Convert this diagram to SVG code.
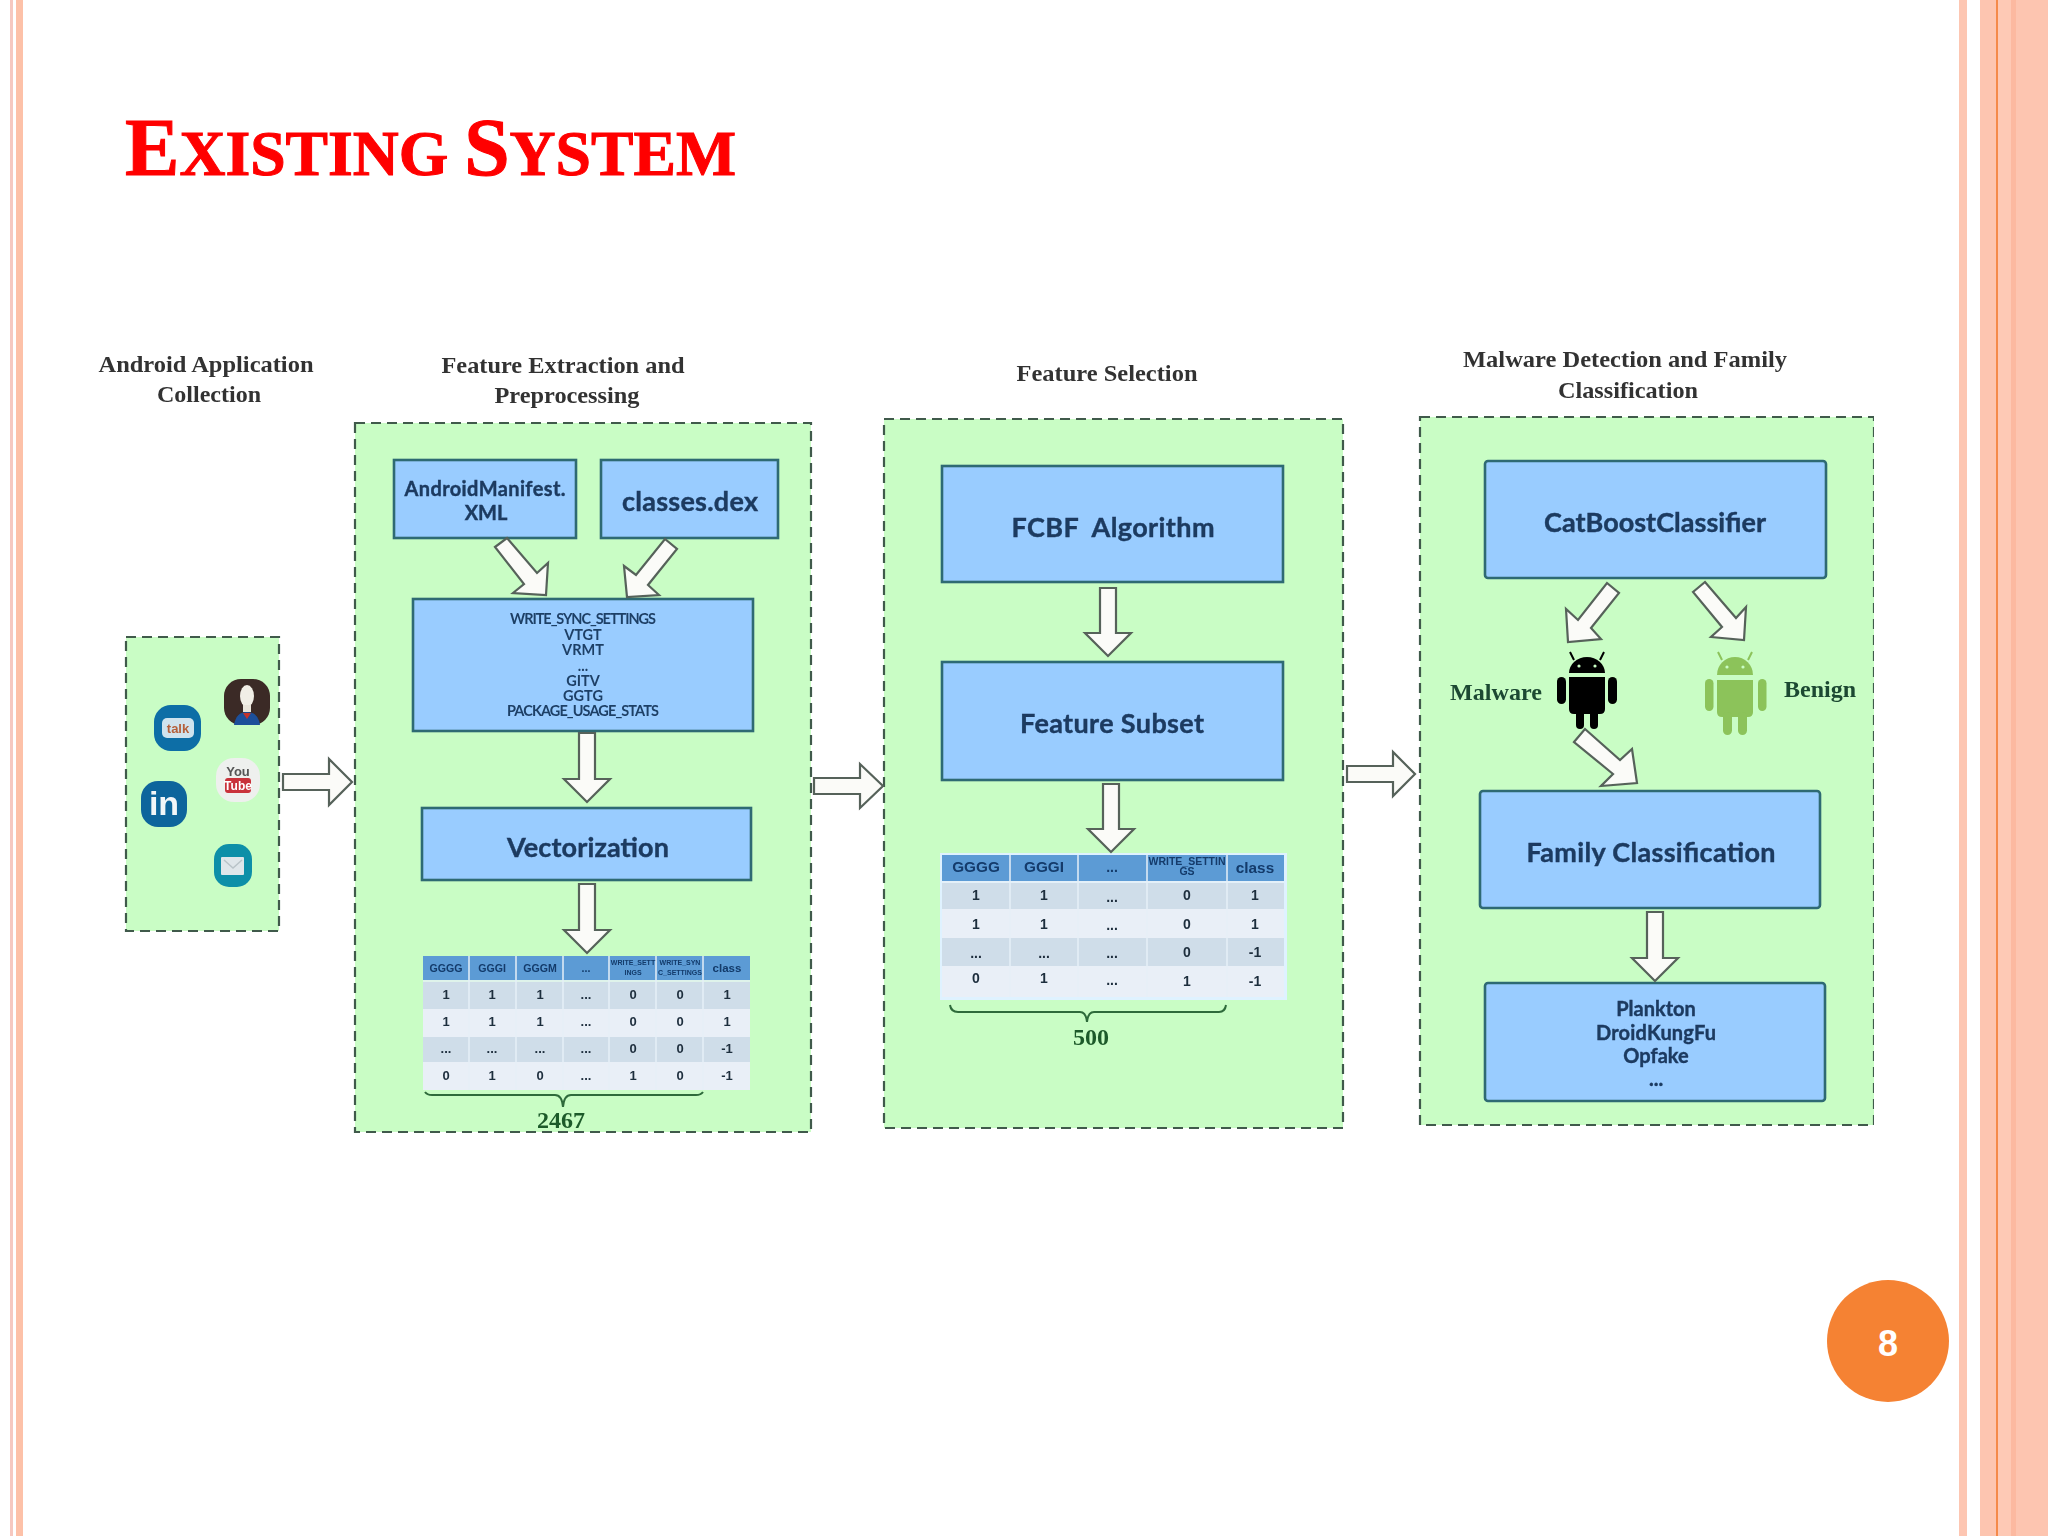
<svg xmlns="http://www.w3.org/2000/svg" width="2048" height="1536" viewBox="0 0 2048 1536">
<defs><filter id="soft" x="0" y="0" width="100%" height="100%"><feGaussianBlur stdDeviation="0.6"/></filter></defs>
<style>
text{font-family:"Liberation Sans",Arial,sans-serif}
.panel{fill:#c9fdc5;stroke:#3f5a4c;stroke-width:2.2;stroke-dasharray:10 6}
.box{fill:#99ccff;stroke:#2f6a73;stroke-width:2.6}
.lbl{font-family:Lato,"Liberation Sans",sans-serif;font-weight:700;fill:#1c3a60;text-anchor:middle;stroke:#1c3a60;stroke-width:.4}
.small{font-family:Lato,"Liberation Sans",sans-serif;font-size:14.5px;font-weight:700;fill:#1f3f66;text-anchor:middle}
.head{font-family:"Liberation Serif",serif;font-weight:700;font-size:24px;fill:#333;text-anchor:middle}
.tag{font-family:"Liberation Serif",serif;font-weight:700;font-size:24px;fill:#1d4a33}
.num{font-family:"Liberation Serif",serif;font-weight:700;font-size:24px;fill:#1d5a2a;text-anchor:middle}
.arrow{fill:#fbfbf8;stroke:#56625a;stroke-width:2.2;stroke-linejoin:miter}
.brace{fill:none;stroke:#2e6b3a;stroke-width:2}
.hd{fill:#5b9bd5}.r1{fill:#cfdde9}.r2{fill:#e9eff7}
.th{font-weight:700;fill:#123a6a;text-anchor:middle}
.td{font-weight:700;fill:#1e2d3c;text-anchor:middle}
</style>

<g id="background">
<rect width="2048" height="1536" fill="#fff"/>
<rect x="10" width="3" height="1536" fill="#f6c8c0"/>
<rect x="16" width="7" height="1536" fill="#fdc1a8"/>
<rect x="1959" width="8" height="1536" fill="#fdc6b2"/>
<rect x="1980" width="68" height="1536" fill="#fdc5b0"/>
<rect x="1998" width="13" height="1536" fill="#fec9b5"/>
<rect x="2011" width="5" height="1536" fill="#fcb9a0"/>
<rect x="1996" width="2" height="1536" fill="#f58a4a"/>
</g>

<text id="title" x="125" y="175" textLength="611" lengthAdjust="spacingAndGlyphs" style="font-family:'Liberation Serif',serif" font-weight="700" font-size="82" fill="#ff0000" stroke="#ff0000" stroke-width="1">E<tspan font-size="64">XISTING </tspan>S<tspan font-size="64">YSTEM</tspan></text>

<g id="diagram" filter="url(#soft)">
<g id="headings">
<text class="head" x="206" y="372" textLength="215" lengthAdjust="spacingAndGlyphs">Android Application</text>
<text class="head" x="209" y="402" textLength="104" lengthAdjust="spacingAndGlyphs">Collection</text>
<text class="head" x="563" y="373" textLength="243" lengthAdjust="spacingAndGlyphs">Feature Extraction and</text>
<text class="head" x="567" y="403" textLength="145" lengthAdjust="spacingAndGlyphs">Preprocessing</text>
<text class="head" x="1107" y="381" textLength="181" lengthAdjust="spacingAndGlyphs">Feature Selection</text>
<text class="head" x="1625" y="367" textLength="324" lengthAdjust="spacingAndGlyphs">Malware Detection and Family</text>
<text class="head" x="1628" y="398" textLength="140" lengthAdjust="spacingAndGlyphs">Classification</text>
</g>

<g id="panel-collection">
<rect class="panel" x="126" y="637" width="153" height="294"/>
<g id="icon-talk"><rect x="154" y="705" width="47" height="46" rx="17" fill="#0b6ea6"/><rect x="162" y="718" width="32" height="20" rx="5" fill="#cfe3ee"/><text x="178" y="733" font-size="13" font-weight="700" fill="#b5603a" text-anchor="middle">talk</text></g>
<g id="icon-super"><rect x="224" y="679" width="46" height="46" rx="17" fill="#3b2a25"/><ellipse cx="247" cy="696" rx="7" ry="11" fill="#f1eee6"/><rect x="243" y="705" width="8" height="7" fill="#e9e4da"/><path d="M234 725Q236 712 247 712Q258 712 260 725Z" fill="#1c4f9a"/><path d="M243 713h8l-4 6z" fill="#c5312a"/></g>
<g id="icon-youtube"><rect x="216" y="758" width="44" height="44" rx="18" fill="#eef0ee"/><text x="238" y="776" font-size="13" font-weight="700" fill="#555" text-anchor="middle">You</text><rect x="225" y="778" width="26" height="15" rx="3" fill="#c9303a"/><text x="238" y="790" font-size="12" font-weight="700" fill="#fff" text-anchor="middle">Tube</text></g>
<g id="icon-linkedin"><rect x="141" y="781" width="46" height="46" rx="17" fill="#0f659c"/><text x="164" y="815" font-size="34" font-weight="700" fill="#f2f6f8" text-anchor="middle">in</text></g>
<g id="icon-mail"><rect x="214" y="844" width="38" height="43" rx="15" fill="#0f8fa8"/><rect x="221" y="857" width="23" height="18" rx="1" fill="#dfe6ea"/><path d="M224 860l9 8 9-8" fill="none" stroke="#b9c3c8" stroke-width="1.5"/></g>
</g>

<g id="panel-extraction">
<rect class="panel" x="355" y="423" width="456" height="709"/>
</g>
<g id="node-manifest">
<rect class="box" x="394" y="460" width="182" height="78"/>
<text class="lbl" x="485" y="496" font-size="20" textLength="161">AndroidManifest.</text>
<text class="lbl" x="486" y="520" font-size="20">XML</text>
</g>
<g id="node-classes">
<rect class="box" x="601" y="460" width="177" height="78"/>
<text class="lbl" x="690" y="511" font-size="27" textLength="136">classes.dex</text>
</g>
<g id="node-features">
<rect class="box" x="413" y="599" width="340" height="132"/>
<text class="small" x="583" y="624" textLength="146">WRITE_SYNC_SETTINGS</text>
<text class="small" x="583" y="640">VTGT</text>
<text class="small" x="583" y="655">VRMT</text>
<text class="small" x="583" y="671">...</text>
<text class="small" x="583" y="686">GITV</text>
<text class="small" x="583" y="701">GGTG</text>
<text class="small" x="583" y="716" textLength="152">PACKAGE_USAGE_STATS</text>
</g>
<g id="node-vectorization">
<rect class="box" x="422" y="808" width="329" height="72"/>
<text class="lbl" x="588" y="857" font-size="27" textLength="162">Vectorization</text>
</g>
<g id="table-2467">
<rect class="hd" x="423" y="956" width="327" height="24"/>
<rect class="r1" x="423" y="982" width="327" height="27"/>
<rect class="r2" x="423" y="1009" width="327" height="28"/>
<rect class="r1" x="423" y="1037" width="327" height="25"/>
<rect class="r2" x="423" y="1062" width="327" height="28"/>
<g stroke="#e6f0f8" stroke-width="1.5"><path d="M469 956V1090M516 956V1090M563 956V1090M609 956V1090M656 956V1090M703 956V1090M423 981H750"/></g>
<g font-size="10.6"><text class="th" x="446" y="972">GGGG</text><text class="th" x="492" y="972">GGGI</text><text class="th" x="540" y="972">GGGM</text><text class="th" x="586" y="972">...</text><text class="th" x="727" y="972" font-size="11.5">class</text></g>
<g font-size="7"><text class="th" x="633" y="965">WRITE_SETT</text><text class="th" x="633" y="975">INGS</text><text class="th" x="680" y="965">WRITE_SYN</text><text class="th" x="680" y="975">C_SETTINGS</text></g>
<g font-size="13">
<text class="td" x="446" y="999">1</text><text class="td" x="492" y="999">1</text><text class="td" x="540" y="999">1</text><text class="td" x="586" y="999">...</text><text class="td" x="633" y="999">0</text><text class="td" x="680" y="999">0</text><text class="td" x="727" y="999">1</text>
<text class="td" x="446" y="1026">1</text><text class="td" x="492" y="1026">1</text><text class="td" x="540" y="1026">1</text><text class="td" x="586" y="1026">...</text><text class="td" x="633" y="1026">0</text><text class="td" x="680" y="1026">0</text><text class="td" x="727" y="1026">1</text>
<text class="td" x="446" y="1053">...</text><text class="td" x="492" y="1053">...</text><text class="td" x="540" y="1053">...</text><text class="td" x="586" y="1053">...</text><text class="td" x="633" y="1053">0</text><text class="td" x="680" y="1053">0</text><text class="td" x="727" y="1053">-1</text>
<text class="td" x="446" y="1080">0</text><text class="td" x="492" y="1080">1</text><text class="td" x="540" y="1080">0</text><text class="td" x="586" y="1080">...</text><text class="td" x="633" y="1080">1</text><text class="td" x="680" y="1080">0</text><text class="td" x="727" y="1080">-1</text>
</g>
<path class="brace" d="M425 1092Q427 1095 432 1095H555Q562 1095 563 1107Q564 1095 571 1095H696Q701 1095 703 1092"/>
<text class="num" x="561" y="1128">2467</text>
</g>

<g id="panel-selection">
<rect class="panel" x="884" y="419" width="459" height="709"/>
</g>
<g id="node-fcbf">
<rect class="box" x="942" y="466" width="341" height="116"/>
<text class="lbl" x="1113" y="537" font-size="27" textLength="203" xml:space="preserve">FCBF  Algorithm</text>
</g>
<g id="node-subset">
<rect class="box" x="942" y="662" width="341" height="118"/>
<text class="lbl" x="1112" y="733" font-size="27" textLength="184">Feature Subset</text>
</g>
<g id="table-500">
<rect x="940" y="853" width="347" height="147" fill="#dff2ff"/>
<rect class="hd" x="942" y="855" width="342" height="26"/>
<rect class="r1" x="942" y="883" width="342" height="26"/>
<rect class="r2" x="942" y="909" width="342" height="29"/>
<rect class="r1" x="942" y="938" width="342" height="28"/>
<rect class="r2" x="942" y="966" width="342" height="31"/>
<g stroke="#e6f0f8" stroke-width="1.5"><path d="M1010 855V997M1078 855V997M1147 855V997M1227 855V997M942 882H1284"/></g>
<text class="th" x="976" y="872" font-size="15.3">GGGG</text><text class="th" x="1044" y="872" font-size="15.3">GGGI</text><text class="th" x="1112" y="872" font-size="14">...</text><text class="th" x="1255" y="873" font-size="15.3">class</text>
<text class="th" x="1187" y="865" font-size="10.5">WRITE_SETTIN</text><text class="th" x="1187" y="875" font-size="10.5">GS</text>
<g font-size="14">
<text class="td" x="976" y="900">1</text><text class="td" x="1044" y="900">1</text><text class="td" x="1112" y="902">...</text><text class="td" x="1187" y="900">0</text><text class="td" x="1255" y="900">1</text>
<text class="td" x="976" y="929">1</text><text class="td" x="1044" y="929">1</text><text class="td" x="1112" y="930">...</text><text class="td" x="1187" y="929">0</text><text class="td" x="1255" y="929">1</text>
<text class="td" x="976" y="958">...</text><text class="td" x="1044" y="958">...</text><text class="td" x="1112" y="958">...</text><text class="td" x="1187" y="957">0</text><text class="td" x="1255" y="957">-1</text>
<text class="td" x="976" y="983">0</text><text class="td" x="1044" y="983">1</text><text class="td" x="1112" y="985">...</text><text class="td" x="1187" y="986">1</text><text class="td" x="1255" y="986">-1</text>
</g>
<path class="brace" d="M950 1005Q951 1012 958 1012H1080Q1086 1012 1087 1022Q1088 1012 1094 1012H1219Q1225 1012 1226 1005"/>
<text class="num" x="1091" y="1045">500</text>
</g>

<g id="panel-detection">
<rect class="panel" x="1420" y="417" width="454" height="708"/>
</g>
<g id="node-catboost">
<rect class="box" x="1485" y="461" width="341" height="117" rx="3"/>
<text class="lbl" x="1655" y="532" font-size="27" textLength="222">CatBoostClassifier</text>
</g>
<g id="node-malware">
<text class="tag" x="1450" y="700" textLength="92" lengthAdjust="spacingAndGlyphs">Malware</text>
<g id="android-black" fill="#000">
<path d="M1569 673A18 16 0 0 1 1605 673Z"/>
<path d="M1574 660L1570 652M1600 660L1604 652" stroke="#000" stroke-width="2" fill="none"/>
<path d="M1569 677H1605V709Q1605 714 1600 714H1574Q1569 714 1569 709Z"/>
<rect x="1557" y="677" width="9" height="27" rx="4.5"/><rect x="1608" y="677" width="9" height="27" rx="4.5"/>
<rect x="1576" y="708" width="8" height="21" rx="4"/><rect x="1590" y="708" width="8" height="21" rx="4"/>
<circle cx="1579" cy="666" r="1.6" fill="#c9fdc5"/><circle cx="1595" cy="666" r="1.6" fill="#c9fdc5"/>
</g>
</g>
<g id="node-benign">
<text class="tag" x="1784" y="697" textLength="72" lengthAdjust="spacingAndGlyphs">Benign</text>
<g id="android-green" fill="#8cc35a">
<path d="M1717 675A18 18 0 0 1 1753 675Z"/>
<path d="M1722 660L1718 652M1748 660L1752 652" stroke="#8cc35a" stroke-width="2" fill="none"/>
<path d="M1717 680H1753V712Q1753 717 1748 717H1722Q1717 717 1717 712Z"/>
<rect x="1705" y="679" width="8.500" height="32" rx="4.200"/><rect x="1758" y="679" width="8.500" height="32" rx="4.200"/>
<rect x="1723" y="712" width="9" height="23" rx="4.500"/><rect x="1738" y="712" width="9" height="23" rx="4.500"/>
<circle cx="1727" cy="667" r="1.600" fill="#c9fdc5"/><circle cx="1743" cy="667" r="1.600" fill="#c9fdc5"/>
</g>
</g>
<g id="node-family">
<rect class="box" x="1480" y="791" width="340" height="117" rx="3"/>
<text class="lbl" x="1651" y="862" font-size="27" textLength="249">Family Classification</text>
</g>
<g id="node-families">
<rect class="box" x="1485" y="983" width="340" height="118" rx="3"/>
<text class="lbl" x="1656" y="1016" font-size="20">Plankton</text>
<text class="lbl" x="1656" y="1040" font-size="20" textLength="120">DroidKungFu</text>
<text class="lbl" x="1656" y="1063" font-size="20">Opfake</text>
<text class="lbl" x="1656" y="1086" font-size="20">...</text>
</g>

<g id="connectors">
<polygon class="arrow" points="283,774 329,774 329,759 352,782 329,805 329,790 283,790"/>
<polygon class="arrow" points="814,778 860,778 860,764 883,786 860,808 860,794 814,794"/>
<polygon class="arrow" points="1347,766 1393,766 1393,752 1415,774 1393,796 1393,782 1347,782"/>
<polygon class="arrow" points="495,547 507,538 537,573 548,563 546,595 513,593 524,584"/>
<polygon class="arrow" points="665,539 677,549 648,585 659,595 627,597 624,566 636,575"/>
<polygon class="arrow" points="579,733 595,733 595,779 610,779 587,802 564,779 579,779"/>
<polygon class="arrow" points="579,884 595,884 595,930 610,930 587,953 564,930 579,930"/>
<polygon class="arrow" points="1100,588 1116,588 1116,633 1131,633 1108,656 1085,633 1100,633"/>
<polygon class="arrow" points="1103,784 1119,784 1119,829 1134,829 1111,852 1088,829 1103,829"/>
<polygon class="arrow" points="1647,912 1663,912 1663,958 1678,958 1655,981 1632,958 1647,958"/>
<polygon class="arrow" points="1607,583 1619,593 1591,628 1601,639 1568,642 1566,609 1578,620"/>
<polygon class="arrow" points="1693,592 1705,582 1736,618 1746,607 1744,640 1711,637 1722,627"/>
<polygon class="arrow" points="1574,742 1585,729 1620,760 1632,749 1637,783 1601,786 1613,774"/>
</g>
</g>

<g id="page-number">
<circle cx="1888" cy="1341" r="61" fill="#f58233"/>
<text x="1888" y="1356" font-size="36" font-weight="700" fill="#fff" text-anchor="middle">8</text>
</g>
</svg>
